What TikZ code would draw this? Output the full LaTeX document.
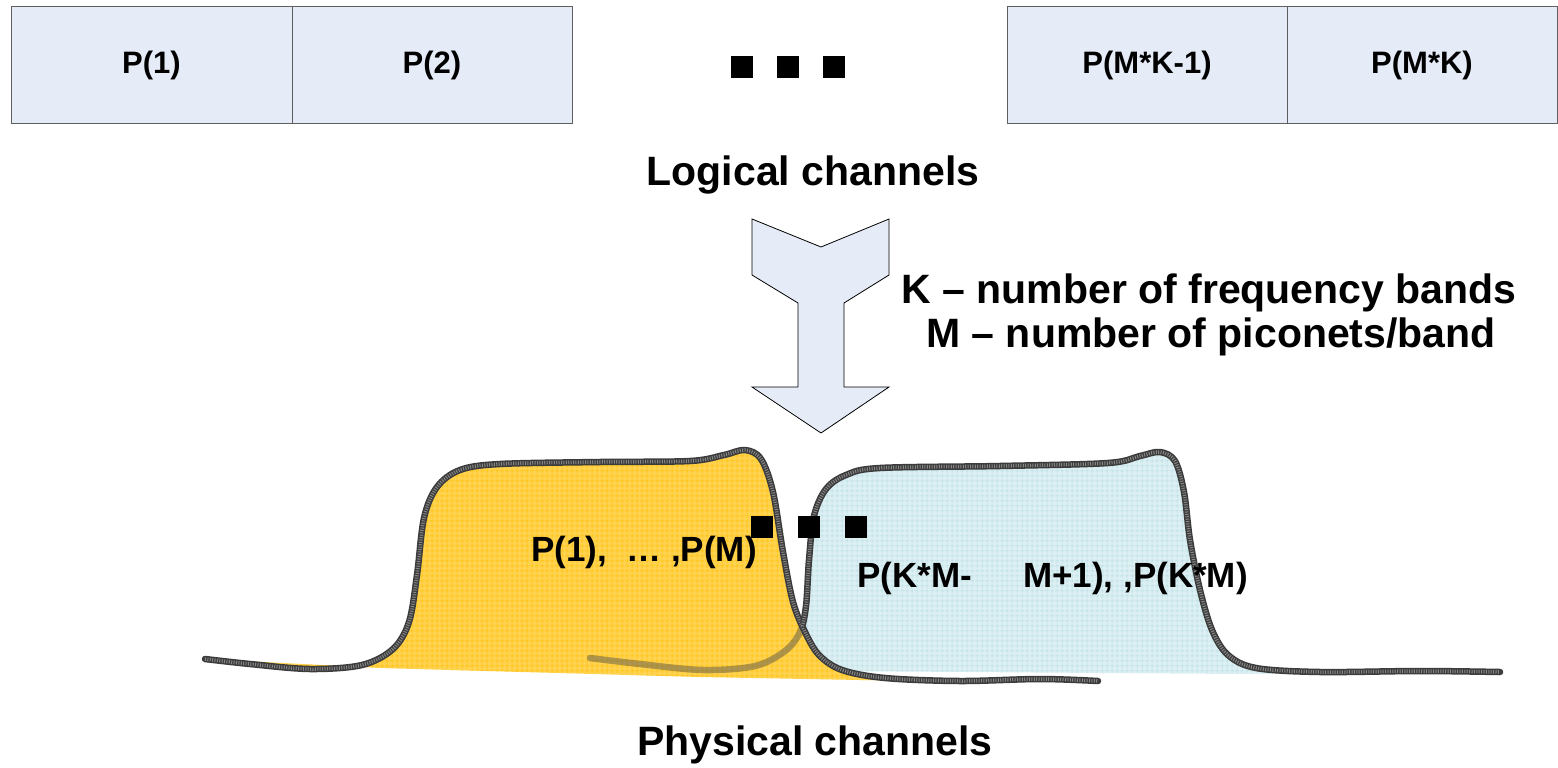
\documentclass[tikz,border=0pt]{standalone}
\usepackage{fontspec}
\setmainfont{Liberation Sans}
\usetikzlibrary{patterns.meta}

\definecolor{boxfill}{RGB}{230,236,247}
\definecolor{boxline}{RGB}{95,95,95}
\definecolor{bandA}{RGB}{255,210,80}
\definecolor{bandAgrid}{RGB}{255,192,0}
\definecolor{bandB}{RGB}{220,239,242}
\definecolor{bandBgrid}{RGB}{182,222,228}
\definecolor{edgecol}{RGB}{60,60,60}
\definecolor{edgetex}{RGB}{135,135,135}

% fine square grid used as texture inside the spectrum bands
\tikzdeclarepattern{
  name=finegrid,
  type=uncolored,
  bottom left={(0pt,0pt)},
  top right={(5pt,5pt)},
  tile size={(5pt,5pt)},
  code={
    \draw[line width=0.7pt] (0pt,2.5pt) -- (5pt,2.5pt) (2.5pt,0pt) -- (2.5pt,5pt);
  }
}

% spectrum outline of the first band
\newcommand\bandAcurve{plot[smooth,tension=0.55] coordinates {
  (205,659) (250,664) (310,669) (362,665) (393,649) (409,622) (417,575)
  (424,518) (437,487) (460,470) (500,464) (600,462) (690,461) (724,455)
  (745,450) (761,459) (773,492) (783,552) (793,602) (805,632) (819,655)
  (842,670) (885,678) (960,681) (1040,679) (1098,681)}}
% spectrum outline of the last band
\newcommand\bandBcurve{plot[smooth,tension=0.55] coordinates {
  (590,658) (640,664) (703,670) (755,666) (785,651) (800,632) (806,606)
  (809,560) (814,516) (826,489) (846,475) (880,468) (1000,466) (1108,463)
  (1140,456) (1160,452) (1175,461) (1184,492) (1190,540) (1200,590)
  (1212,630) (1228,655) (1256,668) (1320,672) (1420,671) (1500,672)}}

\begin{document}
\begin{tikzpicture}[x=1pt,y=-1pt,
  chanbox/.style={draw=boxline, line width=1pt, fill=boxfill, minimum height=116pt,
    inner sep=0pt, outer sep=0pt, font=\fontsize{31}{36}\selectfont\bfseries},
  dotsq/.style={fill=black, draw=none, minimum size=22pt, inner sep=0pt},
  bigtext/.style={font=\fontsize{41}{48}\selectfont\bfseries, inner sep=0pt, anchor=base},
  bandtext/.style={font=\fontsize{35}{42}\selectfont\bfseries, inner sep=0pt, anchor=base west},
  bigarrow/.style={draw=black, line width=0.8pt, fill=boxfill, line join=miter},
  edgeline/.style={draw=edgecol, line width=6.5pt, line cap=round, line join=round},
  edgetexture/.style={draw=edgetex, line width=3.5pt, dash pattern=on 1pt off 1.4pt}
]
\useasboundingbox (0,0) rectangle (1558,768);

% logical channel slots
\node[chanbox, minimum width=281pt] (p1) at (151.5,65) {P(1)};
\node[chanbox, minimum width=280pt] (p2) at (432,65) {P(2)};
\node[chanbox, minimum width=280pt] (pmk1) at (1147,65) {P(M*K-1)};
\node[chanbox, minimum width=270pt] (pmk) at (1422,65) {P(M*K)};

% ellipsis between the slots
\node[dotsq] (topa) at (742,67.5) {};
\node[dotsq] (topb) at (788,67.5) {};
\node[dotsq] (topc) at (834,67.5) {};

\node[bigtext] (logical) at (813,185) {Logical channels};

% mapping arrow
\draw[bigarrow] (752,219) -- (821,247) -- (889,219) -- (889,275) -- (844,303)
  -- (844,387) -- (889,387) -- (821,433) -- (752,387) -- (798,387)
  -- (798,303) -- (752,275) -- cycle;

\node[bigtext] (kdef) at (1209,303) {K – number of frequency bands};
\node[bigtext] (mdef) at (1211,347) {M – number of piconets/band};

% last band: fill
\path[preaction={fill=bandB}, pattern={finegrid}, pattern color=bandBgrid]
  \bandBcurve -- (1240,674) -- (830,671) -- cycle;

% first band fill
\path[preaction={fill=bandA}, pattern={finegrid}, pattern color=bandAgrid]
  \bandAcurve -- (860,680) -- (700,677) -- (380,668) -- cycle;

% left foot of the last band, seen through the first band
\begin{scope}
  \clip (570,600) -- (797,600) -- (801,626) -- (830,642) -- (830,720)
    -- (570,720) -- cycle;
  \draw[edgeline, draw opacity=0.4] \bandBcurve;
  \draw[edgetexture, draw opacity=0.3] \bandBcurve;
\end{scope}

% outline of the first band
\draw[edgeline] \bandAcurve;
\draw[edgetexture] \bandAcurve;

% visible part of the last band's outline
\begin{scope}
  \clip (795,400) -- (1558,400) -- (1558,768) -- (830,768) -- (830,642)
    -- (801,626) -- (797,600) -- cycle;
  \draw[edgeline] \bandBcurve;
  \draw[edgetexture] \bandBcurve;
\end{scope}

% band labels
\node[bandtext] (bandAlbl) at (531,561) {P(1),~~…~,P(M)};
\node[dotsq] (mida) at (762,527) {};
\node[dotsq] (midb) at (809,527) {};
\node[dotsq] (midc) at (856,527) {};
\node[bandtext] (bandBlblA) at (857,587) {P(K*M-};
\node[bandtext] (bandBlblB) at (1023,587) {M+1), ,P(K*M)};

\node[bigtext] (physical) at (815,755) {Physical channels};
\end{tikzpicture}
\end{document}
